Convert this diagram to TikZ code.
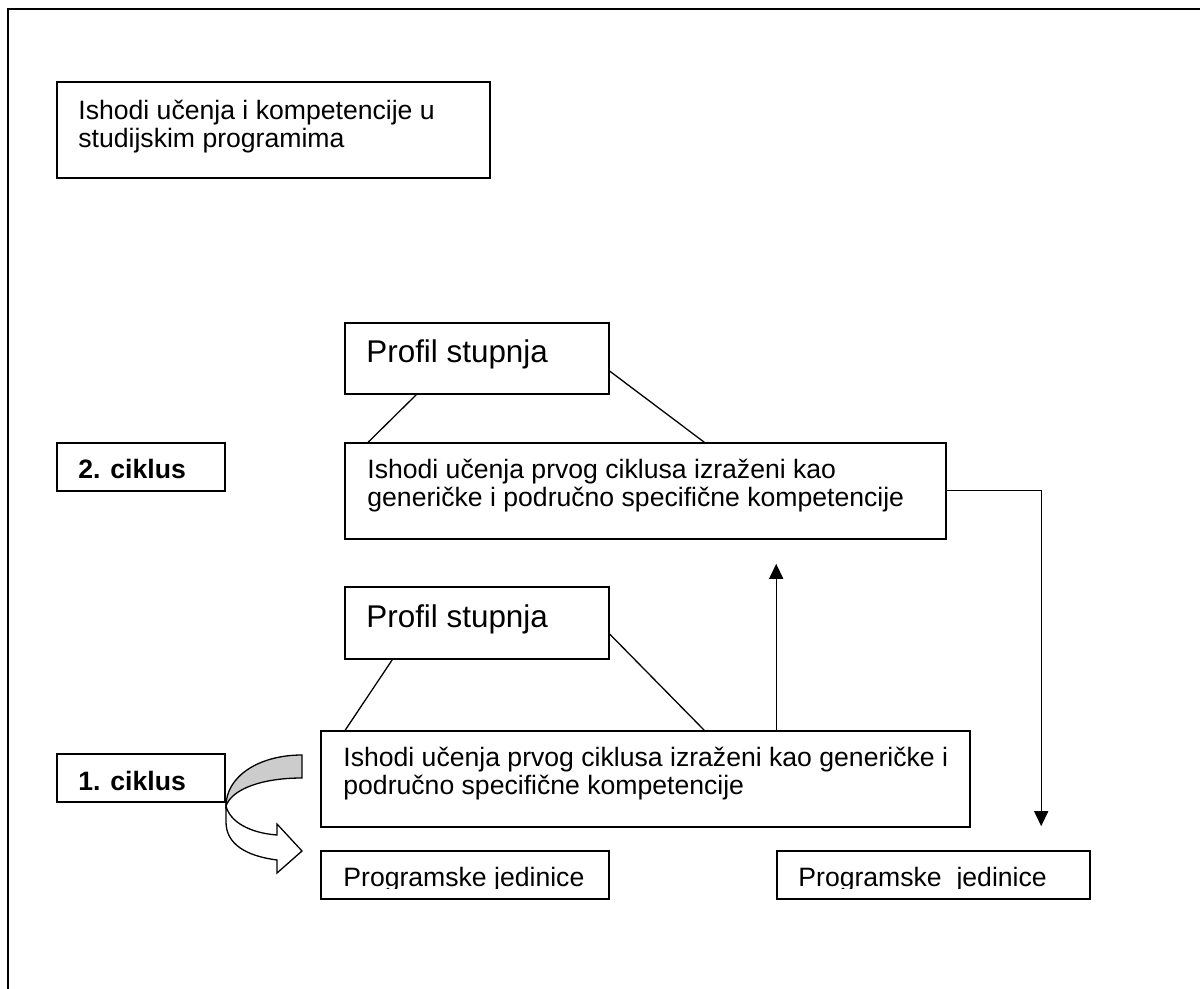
\documentclass[tikz,border=0pt]{standalone}
\usepackage{fontspec}
\setmainfont{Liberation Sans}
\usetikzlibrary{arrows.meta,calc,fit}
\definecolor{bandgray}{RGB}{204,204,204}
\tikzset{
  box/.style={draw, line width=0.8pt, inner sep=0pt},
  txt/.style={anchor=base west, align=left, inner sep=0pt, font=\fontsize{13.3pt}{14pt}\selectfont},
  big/.style={anchor=base west, inner sep=0pt, font=\fontsize{15.7pt}{17pt}\selectfont},
  link/.style={line width=0.65pt},
  arr/.style={line width=0.65pt, -{Triangle[length=7.5pt,width=7pt]}}
}
\begin{document}
\begin{tikzpicture}[x=0.5pt,y=-0.5pt]
\clip (0,0) rectangle (1200,989);
\draw[line width=1pt] (8,9) rectangle (1230,1020);

% base of a two-line text is its last line
\node[box, fit={(57,82) (490,178)}] (goal) {};
\node[txt] at (78,148) {Ishodi učenja i kompetencije u\\studijskim programima};

\node[box, fit={(57,443) (225,491)}] (cyc2) {};
\node[txt] at (78,479) {\bfseries 2. ciklus};
\node[box, fit={(345,323) (609,394)}] (prof2) {};
\node[big] at (366,363) {Profil stupnja};
\node[box, fit={(345,443) (946,539)}] (out2) {};
\node[txt] at (367,507) {Ishodi učenja prvog ciklusa izraženi kao\\generičke i područno specifične kompetencije};

\node[box, fit={(345,587) (609,659)}] (prof1) {};
\node[big] at (366,627) {Profil stupnja};
\node[box, fit={(321,731) (970,827)}] (out1) {};
\node[txt] at (343,794) {Ishodi učenja prvog ciklusa izraženi kao generičke i\\područno specifične kompetencije};
\node[box, fit={(57,754) (225,802)}] (cyc1) {};
\node[txt] at (78,790) {\bfseries 1. ciklus};

\node[box, fit={(321,851) (609,899)}] (unitL) {};
\node[box, fit={(777,851) (1090,899)}] (unitR) {};
\begin{scope}
\clip (unitL.north west) rectangle ($(unitR.south east)+(0,-11)$);
\node[txt] at (343,886) {Programske jedinice};
\node[txt] at (798,886) {Programske\ \ jedinice};
\end{scope}

% profil to ishodi
\draw[link] ($(prof2.south west)+(72,0)$) -- ($(out2.north west)+(24,0)$);
\draw[link] ($(prof2.north east)+(0,49)$) -- ($(out2.north west)+(360,0)$);
\draw[link] ($(prof1.south west)+(48,0)$) -- ($(out1.north west)+(25,0)$);
\draw[link] ($(prof1.north east)+(0,48)$) -- ($(out1.north west)+(384,0)$);

\coordinate (upTip) at ($(out2.south west)+(432,24)$);
\draw[arr] ($(out1.north west)+(456,0)$) -- (upTip);
\coordinate (downTip) at ($(unitR.north west)+(265,-24)$);
\draw[arr] ($(out2.north east)+(0,48)$) -| (downTip);

% curved arrow
\filldraw[fill=bandgray, line width=0.65pt] (302,755) .. controls (258,755) and (226,777) .. (226,806)
  .. controls (232,789) and (262,778) .. (302,778) -- cycle;
\filldraw[fill=white, line width=0.65pt] (226,806) .. controls (230,822) and (250,833) .. (277,835)
  -- (277,824) -- (302,851) -- (277,873) -- (277,860) .. controls (246,856) and (226,844) .. (226,822) -- cycle;
\end{tikzpicture}
\end{document}
